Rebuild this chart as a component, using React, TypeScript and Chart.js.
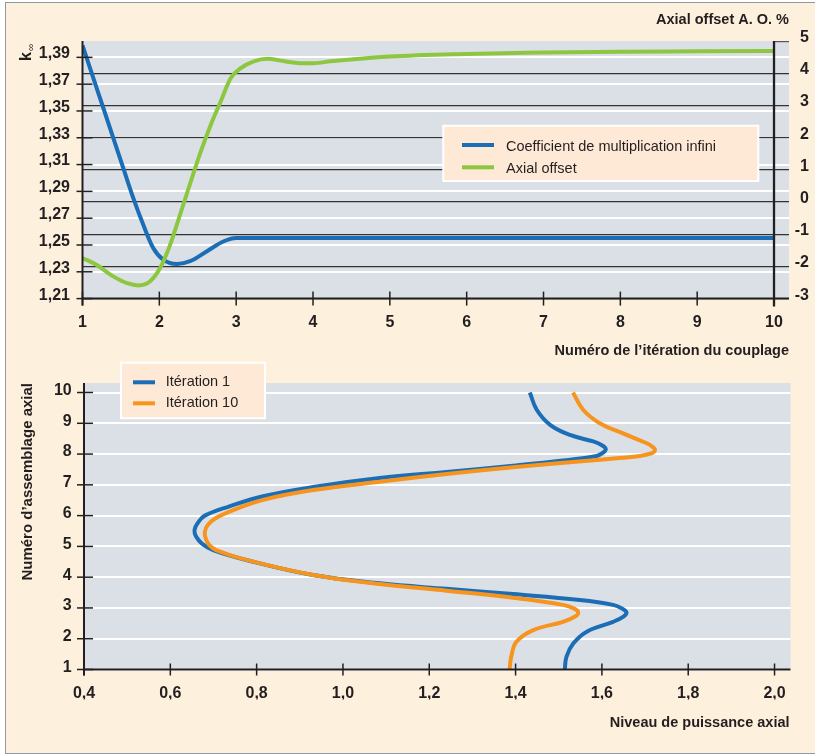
import React, { useEffect, useRef } from 'react';
import { Chart, registerables } from 'chart.js';

Chart.register(...registerables);

const FONT = '"Liberation Sans", Arial, Helvetica, sans-serif';
const INK = '#231F20';
const BLUE = '#1B6EB5';
const GREEN = '#8DC63F';
const ORANGE = '#F7941D';
const PLOT_BG = '#DAE0E6';
const LEGEND_BG = '#FEE8D6';

// ---------- Top chart data ----------
const iterationTicks = [1, 2, 3, 4, 5, 6, 7, 8, 9, 10];
const kInfTicks = [1.21, 1.23, 1.25, 1.27, 1.29, 1.31, 1.33, 1.35, 1.37, 1.39];
const axialOffsetTicks = [-3, -2, -1, 0, 1, 2, 3, 4, 5];

const kInfIterations = [1, 1.14, 1.27, 1.4, 1.53, 1.66, 1.79, 1.92, 2.05, 2.23, 2.4, 2.62, 2.84, 3, 4, 5, 6, 7, 8, 9, 10];
const kInfValues = [1.399, 1.3747, 1.3524, 1.33, 1.3075, 1.2851, 1.2652, 1.2478, 1.2391, 1.2359, 1.2379, 1.2454, 1.2528, 1.2552, 1.2553, 1.2553, 1.2553, 1.2553, 1.2553, 1.2553, 1.2553];

const aoIterations = [1, 1.18, 1.4, 1.58, 1.73, 1.88, 2.01, 2.14, 2.27, 2.41, 2.54, 2.67, 2.8, 2.93, 3.06, 3.23, 3.41, 3.58, 3.8, 4.01, 4.23, 5, 6, 7, 8, 9, 10];
const aoValues = [-1.74, -1.95, -2.31, -2.52, -2.59, -2.46, -2.05, -1.33, -0.39, 0.64, 1.57, 2.4, 3.13, 3.85, 4.16, 4.37, 4.45, 4.39, 4.32, 4.31, 4.37, 4.52, 4.6, 4.64, 4.67, 4.68, 4.69];

// ---------- Bottom chart data ----------
const powerTicks = [0.4, 0.6, 0.8, 1.0, 1.2, 1.4, 1.6, 1.8, 2.0];
const assemblyTicks = [1, 2, 3, 4, 5, 6, 7, 8, 9, 10];

const positionIter1 = [10, 9.44, 8.95, 8.62, 8.41, 8.28, 8.16, 8.03, 7.94, 7.79, 7.62, 7.42, 7.22, 6.93, 6.63, 6.3, 6.0, 5.77, 5.53, 5.31, 5.08, 4.88, 4.56, 4.07, 3.8, 3.62, 3.45, 3.26, 3.1, 2.97, 2.85, 2.72, 2.55, 2.23, 1.85, 1.42, 1.0];
const powerIter1 = [1.433, 1.449, 1.48, 1.526, 1.58, 1.601, 1.609, 1.601, 1.588, 1.51, 1.394, 1.24, 1.085, 0.931, 0.815, 0.737, 0.68, 0.664, 0.656, 0.66, 0.674, 0.699, 0.776, 0.931, 1.085, 1.24, 1.394, 1.549, 1.626, 1.648, 1.657, 1.65, 1.626, 1.565, 1.534, 1.518, 1.514];

const positionIter10 = [10, 9.43, 9.0, 8.67, 8.35, 8.24, 8.13, 8.02, 7.94, 7.81, 7.57, 7.35, 7.1, 6.83, 6.51, 6.13, 5.9, 5.7, 5.48, 5.25, 5.05, 4.88, 4.56, 4.07, 3.78, 3.56, 3.33, 3.1, 2.97, 2.85, 2.72, 2.55, 2.28, 1.9, 1.42, 1.0];
const powerIter10 = [1.533, 1.557, 1.595, 1.649, 1.704, 1.717, 1.723, 1.714, 1.688, 1.588, 1.394, 1.24, 1.085, 0.931, 0.815, 0.737, 0.703, 0.687, 0.68, 0.682, 0.69, 0.706, 0.776, 0.931, 1.085, 1.24, 1.394, 1.51, 1.537, 1.545, 1.538, 1.51, 1.441, 1.402, 1.39, 1.386];

const comma = (v: number, d: number) => v.toFixed(d).replace('.', ',');
const tickFont = { family: FONT, size: 16, weight: 'bold' as const };

function seg(ctx: CanvasRenderingContext2D, x0: number, y0: number, x1: number, y1: number) {
  ctx.beginPath();
  ctx.moveTo(x0, y0);
  ctx.lineTo(x1, y1);
  ctx.stroke();
}

const plotBackground = {
  id: 'plotBackground',
  beforeDraw(chart: any) {
    const { ctx, chartArea: a } = chart;
    ctx.save();
    ctx.fillStyle = PLOT_BG;
    ctx.fillRect(a.left, a.top, a.right - a.left, a.bottom - a.top);
    ctx.restore();
  },
};

function drawLegend(ctx: CanvasRenderingContext2D, chart: any, box: number[], lineX: number[], textX: number, rows: number[], baseShift: number) {
  const [x0, y0, x1, y1] = box;
  ctx.fillStyle = LEGEND_BG;
  ctx.fillRect(x0, y0, x1 - x0, y1 - y0);
  ctx.strokeStyle = '#FFFFFF';
  ctx.lineWidth = 2;
  ctx.strokeRect(x0, y0, x1 - x0, y1 - y0);
  chart.data.datasets.forEach((ds: any, i: number) => {
    ctx.strokeStyle = ds.borderColor;
    ctx.lineWidth = 4;
    seg(ctx, lineX[0], rows[i], lineX[1], rows[i]);
    ctx.fillStyle = INK;
    ctx.font = `14.5px ${FONT}`;
    ctx.textAlign = 'left';
    ctx.textBaseline = 'alphabetic';
    ctx.fillText(ds.label, textX, rows[i] + baseShift);
  });
}

const topDeco = {
  id: 'topDeco',
  afterDraw(chart: any) {
    const { ctx, chartArea: a, scales } = chart;
    const xs = scales.x;
    const ys = scales.y;
    const ys1 = scales.y1;
    const x10 = xs.getPixelForValue(10);
    ctx.save();
    ctx.lineCap = 'butt';
    ctx.strokeStyle = '#555';
    ctx.lineWidth = 1.2;
    const p5 = ys1.getPixelForValue(5);
    seg(ctx, x10, p5 + 0.6, a.right, p5 + 0.6);
    ctx.strokeStyle = INK;
    ctx.lineWidth = 1.5;
    kInfTicks.forEach((v) => {
      const py = ys.getPixelForValue(v);
      seg(ctx, a.left - 6, py, a.left + 10, py);
    });
    iterationTicks.forEach((v) => {
      const px = xs.getPixelForValue(v);
      seg(ctx, px, a.bottom - 7, px, a.bottom + 7);
    });
    ctx.lineWidth = 2;
    seg(ctx, a.left, a.top, a.left, a.bottom + 7);
    seg(ctx, a.left - 1, a.bottom, a.right, a.bottom);
    ctx.lineWidth = 2.3;
    seg(ctx, x10, a.top, x10, a.bottom + 8);

    ctx.fillStyle = INK;
    ctx.font = `bold 14.5px ${FONT}`;
    ctx.textAlign = 'right';
    ctx.textBaseline = 'alphabetic';
    ctx.fillText('Axial offset A. O. %', a.right, 24.3);
    ctx.fillText('Numéro de l’itération du couplage', a.right, 354.5);

    ctx.save();
    ctx.translate(30.7, 61);
    ctx.rotate(-Math.PI / 2);
    ctx.textAlign = 'left';
    ctx.font = `bold 16px ${FONT}`;
    ctx.fillText('k', 0, 0);
    const kw = ctx.measureText('k').width;
    ctx.font = `10px ${FONT}`;
    ctx.fillText('∞', kw + 1, 3.3);
    ctx.restore();

    drawLegend(ctx, chart, [443.3, 125.7, 758.3, 181], [462, 494], 506, [145, 167.3], 5.5);
    ctx.restore();
  },
};

const bottomDeco = {
  id: 'bottomDeco',
  afterDraw(chart: any) {
    const { ctx, chartArea: a, scales } = chart;
    const xs = scales.x;
    const ys = scales.y;
    ctx.save();
    ctx.strokeStyle = INK;
    ctx.lineWidth = 1.5;
    assemblyTicks.forEach((v) => {
      const py = ys.getPixelForValue(v);
      seg(ctx, a.left - 7, py, a.left + 9, py);
    });
    powerTicks.forEach((v) => {
      const px = xs.getPixelForValue(v);
      seg(ctx, px, a.bottom - 6, px, a.bottom + 6);
    });
    ctx.lineWidth = 2;
    seg(ctx, a.left, a.top, a.left, a.bottom + 6);
    seg(ctx, a.left - 1, a.bottom, a.right, a.bottom);

    ctx.fillStyle = INK;
    ctx.font = `bold 14.5px ${FONT}`;
    ctx.textAlign = 'right';
    ctx.textBaseline = 'alphabetic';
    ctx.fillText('Niveau de puissance axial', a.right - 1, 726.5);

    ctx.save();
    ctx.translate(31.5, a.top);
    ctx.rotate(-Math.PI / 2);
    ctx.font = `bold 15px ${FONT}`;
    ctx.textAlign = 'right';
    ctx.fillText('Numéro d’assemblage axial', 0, 0);
    ctx.restore();

    drawLegend(ctx, chart, [121, 362.7, 265, 418.3], [133, 155], 165.7, [382.3, 403.3], 3.6);
    ctx.restore();
  },
};

export default function App() {
  const topRef = useRef<HTMLCanvasElement | null>(null);
  const bottomRef = useRef<HTMLCanvasElement | null>(null);

  useEffect(() => {
    const top = new Chart(topRef.current as HTMLCanvasElement, {
      type: 'line',
      data: {
        datasets: [
          {
            label: 'Coefficient de multiplication infini',
            data: kInfIterations.map((x, i) => ({ x, y: kInfValues[i] })),
            yAxisID: 'y',
            borderColor: BLUE,
            borderWidth: 4,
            pointRadius: 0,
            cubicInterpolationMode: 'monotone',
            fill: false,
            order: 1,
          },
          {
            label: 'Axial offset',
            data: aoIterations.map((x, i) => ({ x, y: aoValues[i] })),
            yAxisID: 'y1',
            borderColor: GREEN,
            borderWidth: 4,
            pointRadius: 0,
            cubicInterpolationMode: 'monotone',
            fill: false,
            order: 0,
          },
        ],
      },
      options: {
        responsive: false,
        animation: false,
        devicePixelRatio: 1,
        layout: { padding: { left: 0, right: 6, top: 41, bottom: 755 - 298.6 - 30 } },
        plugins: { legend: { display: false }, tooltip: { enabled: false } },
        scales: {
          x: {
            type: 'linear',
            min: 1,
            max: 10.195,
            afterBuildTicks: (s: any) => { s.ticks = iterationTicks.map((v) => ({ value: v })); },
            afterFit: (s: any) => { s.height = 30; },
            grid: { display: false, drawTicks: false },
            border: { display: false },
            ticks: { padding: 14.3, font: tickFont, color: INK, autoSkip: false, maxRotation: 0, callback: (v: any) => String(v) },
          },
          y: {
            type: 'linear',
            position: 'left',
            min: 1.21,
            max: 1.4022,
            afterBuildTicks: (s: any) => { s.ticks = kInfTicks.map((v) => ({ value: v })); },
            afterFit: (s: any) => { s.width = 82.5; },
            grid: { color: '#FFFFFF', lineWidth: 2, drawTicks: false },
            border: { display: false },
            ticks: { padding: 12.5, labelOffset: -3.5, font: tickFont, color: INK, autoSkip: false, callback: (v: any) => comma(Number(v), 2) },
          },
          y1: {
            type: 'linear',
            position: 'right',
            min: -3,
            max: 5,
            afterBuildTicks: (s: any) => { s.ticks = axialOffsetTicks.map((v) => ({ value: v })); },
            afterFit: (s: any) => { s.width = 20; },
            grid: {
              color: (c: any) => (c.tick && c.tick.value === 5 ? 'rgba(0,0,0,0)' : '#333333'),
              lineWidth: 1.2,
              drawTicks: false,
            },
            border: { display: false },
            ticks: { padding: 0, crossAlign: 'far', labelOffset: -3.5, font: tickFont, color: INK, autoSkip: false, callback: (v: any) => String(v) },
          },
        },
      } as any,
      plugins: [plotBackground, topDeco],
    } as any);

    const bottom = new Chart(bottomRef.current as HTMLCanvasElement, {
      type: 'scatter',
      data: {
        datasets: [
          {
            label: 'Itération 1',
            data: positionIter1.map((p, i) => ({ x: powerIter1[i], y: p })),
            showLine: true,
            borderColor: BLUE,
            borderWidth: 4,
            pointRadius: 0,
            tension: 0.4,
            fill: false,
            order: 1,
          },
          {
            label: 'Itération 10',
            data: positionIter10.map((p, i) => ({ x: powerIter10[i], y: p })),
            showLine: true,
            borderColor: ORANGE,
            borderWidth: 4,
            pointRadius: 0,
            tension: 0.4,
            fill: false,
            order: 0,
          },
        ],
      },
      options: {
        responsive: false,
        animation: false,
        devicePixelRatio: 1,
        layout: { padding: { left: 0, right: 815 - 790.5, top: 383, bottom: 755 - 669.5 - 30 } },
        plugins: { legend: { display: false }, tooltip: { enabled: false } },
        scales: {
          x: {
            type: 'linear',
            min: 0.4,
            max: 2.037,
            afterBuildTicks: (s: any) => { s.ticks = powerTicks.map((v) => ({ value: v })); },
            afterFit: (s: any) => { s.height = 30; },
            grid: { display: false, drawTicks: false },
            border: { display: false },
            ticks: { padding: 14.9, font: tickFont, color: INK, autoSkip: false, maxRotation: 0, callback: (v: any) => comma(Number(v), 1) },
          },
          y: {
            type: 'linear',
            min: 1,
            max: 10.309,
            afterBuildTicks: (s: any) => { s.ticks = assemblyTicks.map((v) => ({ value: v })); },
            afterFit: (s: any) => { s.width = 84; },
            grid: { color: '#FFFFFF', lineWidth: 2, drawTicks: false },
            border: { display: false },
            ticks: { padding: 12.3, labelOffset: -2, font: tickFont, color: INK, autoSkip: false, callback: (v: any) => String(v) },
          },
        },
      } as any,
      plugins: [plotBackground, bottomDeco],
    } as any);

    return () => {
      top.destroy();
      bottom.destroy();
    };
  }, []);

  const canvasStyle: React.CSSProperties = { position: 'absolute', left: 0, top: 0, width: 815, height: 755 };

  return (
    <div style={{ position: 'absolute', left: 0, top: 0, width: 815, height: 755, background: '#FFFFFF', overflow: 'hidden' }}>
      <div
        style={{
          position: 'absolute',
          left: 5,
          top: 2,
          width: 830,
          height: 750,
          background: '#FDF0DC',
          borderLeft: '1.5px solid #8C9AA3',
          borderTop: '1.5px solid #8C9AA3',
          borderBottom: '1.5px solid #8C9AA3',
        }}
      />
      <canvas ref={bottomRef} width={815} height={755} style={canvasStyle} />
      <canvas ref={topRef} width={815} height={755} style={canvasStyle} />
    </div>
  );
}
